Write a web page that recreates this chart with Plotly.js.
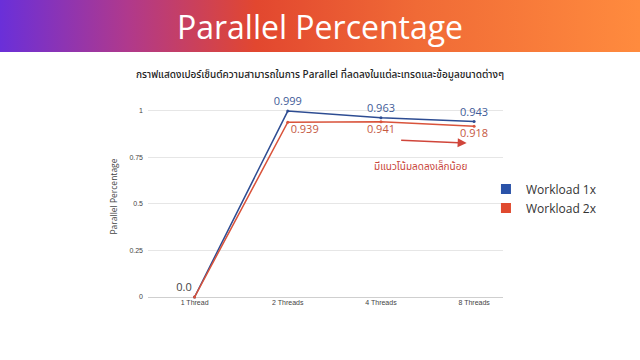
<!DOCTYPE html>
<html>
<head>
<meta charset="utf-8">
<script src="https://cdn.plot.ly/plotly-3.0.1.min.js"></script>
<style>
html,body{margin:0;padding:0;background:#fff;}
#wrap{position:relative;width:640px;height:360px;}
#banner{position:absolute;left:0;top:0;width:640px;height:52px;
background:linear-gradient(90deg,#6a2fd9 0%,#b0398c 20%,#e2472f 40%,#f06a36 65%,#ff8b3e 100%);}
#chart{position:absolute;left:0;top:0;width:640px;height:360px;}
</style>
</head>
<body>
<div id="wrap"><div id="banner"></div><div id="chart"></div></div>
<script>
const categories = ["1 Thread", "2 Threads", "4 Threads", "8 Threads"];
const workload1x = [0, 0.999, 0.963, 0.943];
const workload2x = [0, 0.939, 0.941, 0.918];
const labels1x = ["0.0", "0.999", "0.963", "0.943"];
const labels2x = ["", "0.939", "0.941", "0.918"];
const seriesNames = ["Workload 1x", "Workload 2x"];
const yTicks = [0, 0.25, 0.5, 0.75, 1];
const yTickText = ["0", "0.25", "0.5", "0.75", "1"];

const thaiFont = "'Noto Sans Thai', 'Noto Sans Thai Looped', 'Noto Sans', 'Open Sans', sans-serif";

const lineBlue = "#2d4c92", lineRed = "#d9533b";
const legBlue = "#2a52a8", legRed = "#e04a2f";

const traces = [
  {
    x: categories, y: workload1x, type: "scatter", mode: "lines+markers+text",
    line: {color: lineBlue, width: 1.5}, marker: {color: lineBlue, size: 3},
    text: labels1x, textposition: ["top left", "top center", "top center", "top center"],
    textfont: {family: "Open Sans, sans-serif", size: 11, color: ["#444", "#3f5b98", "#3f5b98", "#3f5b98"]},
    showlegend: false, cliponaxis: false, hoverinfo: "skip"
  },
  {
    x: categories, y: workload2x, type: "scatter", mode: "lines+markers+text",
    line: {color: lineRed, width: 1.5}, marker: {color: lineRed, size: 3},
    text: labels2x, textposition: ["bottom center", "bottom right", "bottom center", "bottom center"],
    textfont: {family: "Open Sans, sans-serif", size: 11, color: "#c5583f"},
    showlegend: false, cliponaxis: false, hoverinfo: "skip"
  },
  {
    x: [null], y: [null], type: "scatter", mode: "markers", name: seriesNames[0],
    marker: {symbol: "square", size: 10, color: legBlue}, showlegend: true
  },
  {
    x: [null], y: [null], type: "scatter", mode: "markers", name: seriesNames[1],
    marker: {symbol: "square", size: 10, color: legRed}, showlegend: true
  }
];

const layout = {
  width: 640, height: 360,
  margin: {l: 148, r: 137, t: 96, b: 63},
  paper_bgcolor: "rgba(0,0,0,0)", plot_bgcolor: "rgba(0,0,0,0)",
  font: {family: "Open Sans, sans-serif", color: "#333"},
  title: {
    text: "Parallel Percentage", font: {family: "Open Sans, sans-serif", size: 32, color: "#ffffff"},
    x: 0.5, xref: "container", xanchor: "center", y: 0.923, yref: "container", yanchor: "middle"
  },
  xaxis: {
    type: "category", range: [-0.5, 3.31], showgrid: false, zeroline: false, showline: false,
    ticks: "", tickfont: {size: 7, color: "#444", family: "Liberation Sans, Arial, sans-serif"}
  },
  yaxis: {
    range: [0, 1.08], tickvals: yTicks, ticktext: yTickText,
    showgrid: true, gridcolor: "#e6e6e6", gridwidth: 1, zeroline: true, zerolinecolor: "#cfcfcf",
    showline: false, ticks: "", ticklabelstandoff: 4,
    tickfont: {size: 7, color: "#444", family: "Liberation Sans, Arial, sans-serif"},
    title: {text: "Parallel Percentage", font: {size: 8.5, color: "#444", family: "Open Sans, sans-serif"}, standoff: 10}
  },
  legend: {
    x: 0.952, xanchor: "left", y: 0.49, yanchor: "middle",
    font: {size: 12, color: "#333", family: "Open Sans, sans-serif"},
    itemwidth: 30, tracegroupgap: 0, bgcolor: "rgba(0,0,0,0)"
  },
  annotations: [
    {
      text: "กราฟแสดงเปอร์เซ็นต์ความสามารถในการ Parallel ที่ลดลงในแต่ละเทรดและข้อมูลขนาดต่างๆ",
      xref: "paper", yref: "paper", x: 0.4845, y: 1.104, xanchor: "center", yanchor: "middle",
      showarrow: false, font: {family: thaiFont, size: 10, color: "#222", weight: 500}
    },
    {
      xref: "x", yref: "y", x: 2.92, y: 0.827, ax: -67, ay: -3, axref: "pixel", ayref: "pixel",
      showarrow: true, arrowhead: 2, arrowsize: 1.2, arrowwidth: 1.5, arrowcolor: "#d0453a", text: ""
    },
    {
      text: "มีแนวโน้มลดลงเล็กน้อย", xref: "x", yref: "y", x: 2.42, y: 0.70,
      xanchor: "center", yanchor: "middle", showarrow: false,
      font: {family: thaiFont, size: 10, color: "#c8463a"}
    }
  ]
};

Plotly.newPlot("chart", traces, layout, {displayModeBar: false, staticPlot: true});
</script>
</body>
</html>
